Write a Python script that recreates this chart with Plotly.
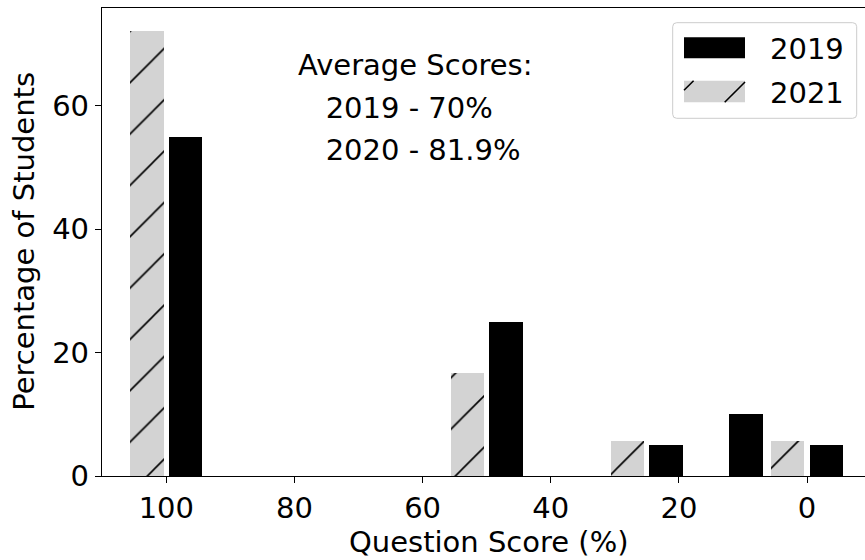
import plotly.graph_objects as go

# Score categories (question score, %) and share of students per year
scores = [100, 50, 25, 12.5, 0]
pct_2019 = [55, 25, 5, 10, 5]
pct_2021 = [72.2, 16.7, 5.6, 0, 5.6]

x_ticks = [0, 20, 40, 60, 80, 100]
y_ticks = [0, 20, 40, 60]

avg_title = "Average Scores:"
avg_lines = ["2019 - 70%", "2020 - 81.9%"]

FONT = "DejaVu Sans"
FS = 29
BAR_W = 5.2
SHIFT = 3.0

# Figure geometry (pixels)
FIG_W, FIG_H = 865, 560
ML, MR, MT, MB = 102, 0, 8, 84
PW = FIG_W - ML - MR
PH = FIG_H - MT - MB


def px_x(px):
    return (px - ML) / PW


def px_y(py):
    return (FIG_H - MB - py) / PH


fig = go.Figure()

fig.add_trace(go.Bar(
    x=[s + SHIFT for s in scores], y=pct_2021, width=BAR_W, name="2021",
    marker=dict(color="#d3d3d3", line=dict(width=0),
                pattern=dict(shape="/", fgcolor="black", bgcolor="#d3d3d3",
                             fgopacity=1, size=36.3, solidity=0.045)),
    showlegend=False,
))
fig.add_trace(go.Bar(
    x=[s - SHIFT for s in scores], y=pct_2019, width=BAR_W, name="2019",
    marker=dict(color="black", line=dict(width=0)),
    showlegend=False,
))

annotations = []
# averages text block
annotations.append(dict(x=79.83, y=px_y(65.3), xref="x", yref="paper",
                        text=avg_title, showarrow=False, xanchor="left",
                        yanchor="middle", font=dict(family=FONT, size=FS, color="black")))
for i, line in enumerate(avg_lines):
    annotations.append(dict(x=79.83, y=px_y([107.8, 150.3][i]), xref="x", yref="paper",
                            text="\u00a0\u00a0\u00a0" + line, showarrow=False, xanchor="left",
                            yanchor="middle", font=dict(family=FONT, size=FS, color="black")))

# axis titles
annotations.append(dict(x=px_x(489), y=px_y(542), xref="paper", yref="paper",
                        text="Question Score (%)", showarrow=False, xanchor="center",
                        yanchor="middle", font=dict(family=FONT, size=FS, color="black")))
annotations.append(dict(x=px_x(23.3), y=px_y(241.5), xref="paper", yref="paper",
                        text="Percentage of Students", showarrow=False, textangle=-90,
                        xanchor="center", yanchor="middle",
                        font=dict(family=FONT, size=FS, color="black")))

# legend labels
for name, cy in [("2019", 48.5), ("2021", 92.5)]:
    annotations.append(dict(x=px_x(768), y=px_y(cy), xref="paper", yref="paper",
                            text=name, showarrow=False, xanchor="left", yanchor="middle",
                            font=dict(family=FONT, size=FS, color="black")))

shapes = []
# legend frame with rounded corners
x0, x1, y0, y1, r = 672.7, 856.7, 22.7, 118.3, 4.0
path = (
    f"M {px_x(x0 + r)},{px_y(y0)} L {px_x(x1 - r)},{px_y(y0)} "
    f"Q {px_x(x1)},{px_y(y0)} {px_x(x1)},{px_y(y0 + r)} "
    f"L {px_x(x1)},{px_y(y1 - r)} Q {px_x(x1)},{px_y(y1)} {px_x(x1 - r)},{px_y(y1)} "
    f"L {px_x(x0 + r)},{px_y(y1)} Q {px_x(x0)},{px_y(y1)} {px_x(x0)},{px_y(y1 - r)} "
    f"L {px_x(x0)},{px_y(y0 + r)} Q {px_x(x0)},{px_y(y0)} {px_x(x0 + r)},{px_y(y0)} Z"
)
shapes.append(dict(type="path", path=path, xref="paper", yref="paper",
                   fillcolor="rgba(255,255,255,0.8)", line=dict(color="#cccccc", width=1)))
# legend patches
shapes.append(dict(type="rect", xref="paper", yref="paper",
                   x0=px_x(684), x1=px_x(745), y0=px_y(37.3), y1=px_y(58.3),
                   fillcolor="black", line=dict(width=0)))
shapes.append(dict(type="rect", xref="paper", yref="paper",
                   x0=px_x(684), x1=px_x(745), y0=px_y(80.7), y1=px_y(102.3),
                   fillcolor="#d3d3d3", line=dict(width=0)))
for (ax, ay, bx, by) in [(684, 90.3, 693.6, 80.7), (724.7, 102.3, 745, 82.0)]:
    shapes.append(dict(type="line", xref="paper", yref="paper",
                       x0=px_x(ax), y0=px_y(ay), x1=px_x(bx), y1=px_y(by),
                       line=dict(color="black", width=1.6)))

fig.update_layout(
    width=FIG_W, height=FIG_H,
    margin=dict(l=ML, r=MR, t=MT, b=MB, pad=0),
    paper_bgcolor="white", plot_bgcolor="white",
    barmode="overlay", bargap=0,
    font=dict(family=FONT, size=FS, color="black"),
    annotations=annotations, shapes=shapes,
    xaxis=dict(range=[110.04, -9.05], tickvals=x_ticks, ticks="outside", ticklen=6,
               tickwidth=1.3, tickcolor="black", showgrid=False, zeroline=False,
               showline=True, linecolor="black", linewidth=1.3, mirror=True,
               tickfont=dict(family=FONT, size=FS, color="black")),
    yaxis=dict(range=[0, 75.85], tickvals=y_ticks, ticks="outside", ticklen=6,
               tickwidth=1.3, tickcolor="black", showgrid=False, zeroline=False,
               showline=True, linecolor="black", linewidth=1.3, mirror=False,
               tickfont=dict(family=FONT, size=FS, color="black")),
)

fig.write_html("out.html")
